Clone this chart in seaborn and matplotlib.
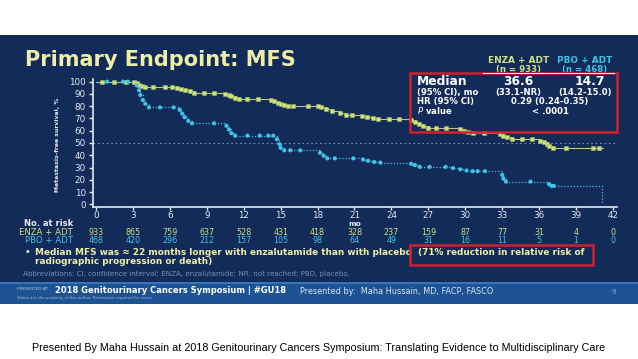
import numpy as np
import pandas as pd
import matplotlib
matplotlib.use('Agg')
import matplotlib.pyplot as plt
import matplotlib.transforms as mtransforms
from matplotlib.patches import Rectangle
import seaborn as sns

# Kaplan-Meier steps (month, % metastasis-free)
enza_t = [0, 3.1, 3.3, 3.5, 3.7, 4.0, 6.6, 6.9, 7.2, 7.6, 8.0, 10.5, 10.8, 11.0, 11.3, 11.6,
          14.2, 14.5, 14.8, 15.0, 15.3, 15.6, 18.3, 18.7, 19.2, 19.8, 20.3, 21.6, 22.0, 22.5, 22.9,
          25.6, 25.9, 26.2, 26.6, 27.0, 29.6, 29.9, 30.2, 30.6, 32.8, 33.1, 33.4, 33.8,
          36.1, 36.4, 36.6, 36.8, 37.1, 41.2]
enza_s = [100, 99.5, 98.5, 97.5, 96.5, 95.5, 95, 94, 93, 92, 91, 90, 89, 88, 87, 86,
          85, 84, 83, 82, 81, 80, 79, 77.5, 76, 74.5, 73, 72, 71, 70, 69.5,
          68.5, 67, 65.5, 64, 62.5, 61.5, 60, 59, 58, 57, 56, 55, 53.5,
          52, 50.5, 49, 47.5, 46, 46]
pbo_t = [0, 3.3, 3.5, 3.6, 3.8, 4.0, 4.3, 6.8, 7.0, 7.2, 7.5, 7.8, 10.6, 10.8, 11.0, 11.3,
         14.7, 14.9, 15.0, 15.3, 18.2, 18.5, 18.8, 21.7, 22.1, 22.6, 23.1, 25.6, 25.9, 26.3,
         29.0, 29.6, 30.1, 30.6, 33.0, 33.1, 33.3, 36.8, 37.0, 41.1]
pbo_s = [100, 97, 93, 89, 85, 82, 79, 77, 74, 71, 68, 66, 64, 61, 58, 56,
         53, 49, 46, 44, 42, 39.5, 37.5, 36.5, 35.5, 34.5, 34, 33, 32, 30.5,
         29.5, 28.5, 27.5, 27, 24, 21, 18.5, 16.5, 15, 0]

# censoring ticks on the flat parts
enza_cens = [0.5, 1.5, 2.4, 4.6, 5.6, 6.2, 8.8, 9.6, 12.3, 13.2, 16.0, 17.2, 18.0, 20.8, 23.8,
             24.6, 27.6, 28.4, 31.5, 34.6, 35.4, 38.2, 40.4, 40.9]
pbo_cens = [0.9, 2.2, 2.6, 5.2, 6.3, 9.6, 12.3, 13.3, 14.0, 14.4, 15.8, 16.6, 19.4,
            20.9, 27.1, 28.4, 31.0, 31.6, 35.3, 37.2]

months = list(range(0, 43, 3))
enza_risk = [933, 865, 759, 637, 528, 431, 418, 328, 237, 159, 87, 77, 31, 4, 0]
pbo_risk = [468, 420, 296, 212, 157, 105, 98, 64, 49, 31, 16, 11, 5, 1, 0]

NAVY = '#122b58'
ENZA_C = '#cfe283'
PBO_C = '#3fc4e8'
TXT = '#e6eaf1'
YEL = '#eeeea6'
RED = '#d21f2b'


def step_at(ts, ss, t):
    i = np.searchsorted(ts, t, side='right') - 1
    return ss[i]


enza = pd.DataFrame({'t': enza_t, 's': enza_s})
pbo = pd.DataFrame({'t': pbo_t, 's': pbo_s})
enza_m = pd.concat([enza.iloc[1:-1],
                    pd.DataFrame({'t': enza_cens, 's': [step_at(enza_t, enza_s, c) for c in enza_cens]})])
pbo_m = pd.concat([pbo.iloc[1:-1],
                   pd.DataFrame({'t': pbo_cens, 's': [step_at(pbo_t, pbo_s, c) for c in pbo_cens]})])

sns.set_style('ticks')
plt.rcParams['font.family'] = ['DejaVu Sans']

W, H = 638, 359
fig = plt.figure(figsize=(W / 100, H / 100), dpi=100)
fig.patch.set_facecolor('white')


def fx(px):
    return px / W


def fy(py):
    return 1 - py / H


def T(px, py, s, **kw):
    kw.setdefault('va', 'center')
    fig.text(fx(px), fy(py), s, **kw)


def box(x0, y0, x1, y1, **kw):
    fig.add_artist(Rectangle((fx(x0), fy(y1)), fx(x1) - fx(x0), fy(y0) - fy(y1),
                             transform=fig.transFigure, **kw))


# slide background and footer band
box(0, 35, W, 282, facecolor=NAVY, edgecolor='none', zorder=0)
box(0, 282, W, 303.5, facecolor='#1d5394', edgecolor='none', zorder=0)
box(0, 282, W, 284, facecolor='#3a74b8', edgecolor='none', zorder=0)

ax = fig.add_axes([fx(92.9), fy(207), fx(616.7) - fx(92.9), fy(79.2) - fy(207)])
ax.set_facecolor('none')

ax.axhline(50, ls=(0, (1.5, 2.5)), color='#7d8fb3', lw=0.8, zorder=1)

sns.lineplot(data=enza, x='t', y='s', drawstyle='steps-post', color='#b9c98d', lw=0.8,
             estimator=None, sort=False, ax=ax, zorder=2)
sns.lineplot(data=pbo, x='t', y='s', drawstyle='steps-post', color=PBO_C, lw=0.9,
             ls=(0, (1, 1.5)), estimator=None, sort=False, ax=ax, zorder=2)
sns.scatterplot(data=enza_m, x='t', y='s', marker='s', s=10, color=ENZA_C,
                edgecolor='#9fb85a', linewidth=0.4, ax=ax, zorder=3)
sns.scatterplot(data=pbo_m, x='t', y='s', marker='o', s=9, color=PBO_C,
                edgecolor='none', ax=ax, zorder=3)

ax.set_xlim(-0.25, 42.3)
ax.set_ylim(-2.2, 102)
ax.set_xticks(months)
ax.set_yticks(range(0, 101, 10))
ax.set_xlabel('')
ax.set_ylabel('')
for side in ['top', 'right']:
    ax.spines[side].set_visible(False)
for side in ['left', 'bottom']:
    ax.spines[side].set_color(TXT)
    ax.spines[side].set_linewidth(1.2)
ax.tick_params(colors=TXT, labelcolor=TXT, labelsize=6.3, width=1)
ax.tick_params(axis='x', length=2.5, pad=0.3)
ax.tick_params(axis='y', length=3, pad=2)

# axis titles
T(58, 144.5, 'Metastasis-free survival, %', rotation=90, ha='center', fontsize=4.4,
  weight='bold', color=TXT)
T(355, 223.5, 'mo', ha='center', fontsize=5.3, weight='bold', color=TXT)

# title
T(25, 66, 'Primary Endpoint: MFS', fontsize=15, weight='bold', color=YEL, va='baseline')

# number at risk table
T(73, 224, 'No. at risk', ha='right', fontsize=6, weight='bold', color=TXT)
T(73, 232.7, 'ENZA + ADT', ha='right', fontsize=6.1, color=ENZA_C)
T(73, 240.7, 'PBO + ADT', ha='right', fontsize=6.1, color=PBO_C)
blend = mtransforms.blended_transform_factory(ax.transData, fig.transFigure)
for m, a, b in zip(months, enza_risk, pbo_risk):
    ax.text(m, fy(232.7), str(a), transform=blend, ha='center', va='center',
            fontsize=5.8, color=ENZA_C)
    ax.text(m, fy(240.7), str(b), transform=blend, ha='center', va='center',
            fontsize=5.8, color=PBO_C)

# bullet
T(25, 252.8, '\u2022', fontsize=6.4, weight='bold', color=YEL)
T(35, 257.2, 'Median MFS was \u2248 22 months longer with enzalutamide than with placebo\n'
  'radiographic progression or death)', fontsize=6.4, weight='bold', color=YEL,
  linespacing=1.0)
T(418, 252.8, '(71% reduction in relative risk of', fontsize=6.4, weight='bold', color=YEL)
box(410, 245, 592.7, 265, facecolor='none', edgecolor=RED, lw=1.8, zorder=5)

T(23, 274, 'Abbreviations: CI, confidence interval; ENZA, enzalutamide; NR, not reached; '
  'PBO, placebo.', fontsize=5.1, color='#7e8db0')

# summary box
T(519, 60.7, 'ENZA + ADT', ha='center', fontsize=6.4, weight='bold', color=ENZA_C)
T(585, 60.7, 'PBO + ADT', ha='center', fontsize=6.4, weight='bold', color=PBO_C)
T(519, 69.6, '(n = 933)', ha='center', fontsize=6.2, weight='bold', color=ENZA_C)
T(585, 69.6, '(n = 468)', ha='center', fontsize=6.2, weight='bold', color=PBO_C)
box(410, 72.7, 617, 131.7, facecolor='none', edgecolor=RED, lw=1.8, zorder=5)
box(483, 72.7, 615, 73.9, facecolor='#e8ecf2', edgecolor='none', zorder=6)
T(416.5, 81.7, 'Median', fontsize=8.8, weight='bold', color='white')
T(518, 81.7, '36.6', ha='center', fontsize=8.8, weight='bold', color='white')
T(590, 81.7, '14.7', ha='center', fontsize=8.8, weight='bold', color='white')
T(416.5, 92.7, '(95% CI), mo', fontsize=6.1, weight='bold', color='white')
T(518, 92.7, '(33.1-NR)', ha='center', fontsize=6.1, weight='bold', color='white')
T(585, 92.7, '(14.2-15.0)', ha='center', fontsize=6.1, weight='bold', color='white')
T(416.5, 101.8, 'HR (95% CI)', fontsize=6.1, weight='bold', color='white')
T(550, 101.8, '0.29 (0.24-0.35)', ha='center', fontsize=6.1, weight='bold', color='white')
T(416.5, 111, '$\\it{P}$ value', fontsize=6.1, weight='bold', color='white')
T(550, 111, '< .0001', ha='center', fontsize=6.1, weight='bold', color='white')

# footer band
T(17, 289, 'PRESENTED AT:', fontsize=3, color='#b8c8e0')
T(55, 290.5, '2018 Genitourinary Cancers Symposium | #GU18', fontsize=6, weight='bold',
  color='white')
T(17, 297.7, 'Slides are the property of the author. Permission required for reuse.',
  fontsize=2.9, style='italic', color='#a9bbd6')
T(300, 291.5, 'Presented by:  Maha Hussain, MD, FACP, FASCO', fontsize=5.9, color='#dde4f0')
T(612, 291.5, '9', fontsize=5.2, color='#88a8d0')

# caption under the slide
T(319, 348.3, 'Presented By Maha Hussain at 2018 Genitourinary Cancers Symposium: '
  'Translating Evidence to Multidisciplinary Care', ha='center', fontsize=7.75,
  color='black', family='Liberation Sans')

fig.savefig('out.png', dpi=100, facecolor=fig.get_facecolor())
